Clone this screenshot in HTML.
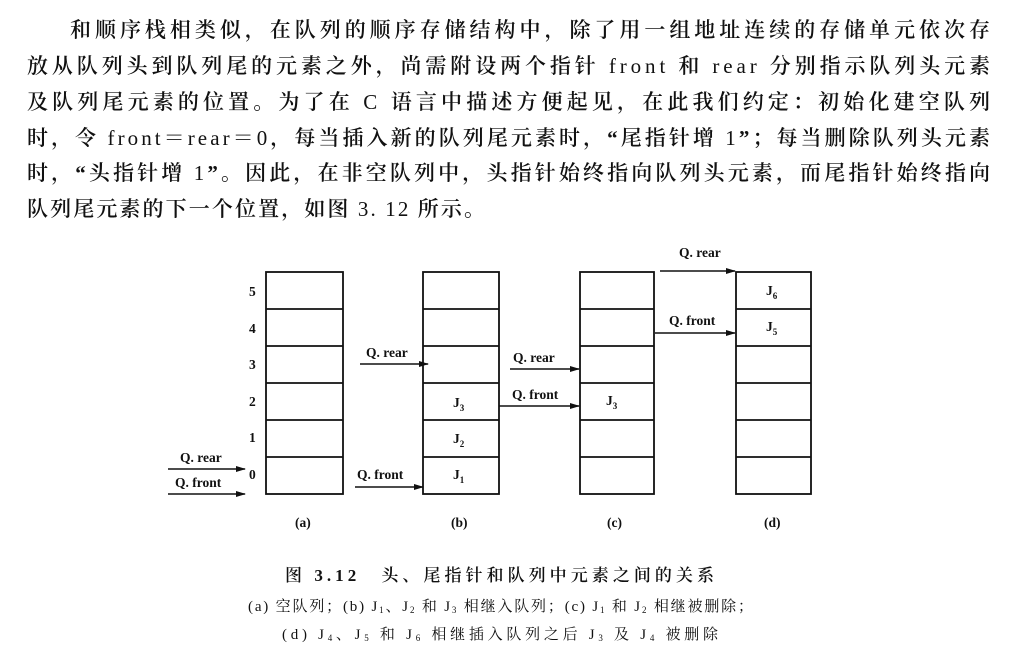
<!DOCTYPE html>
<html><head><meta charset="utf-8"><style>
html,body{margin:0;padding:0;background:#fff;}
svg{display:block;}
.t{font-family:"Liberation Serif","Noto Serif CJK SC",serif;font-size:21px;fill:#111;font-weight:600;}
.n{font-weight:normal;}
.l{font-family:"Liberation Serif",serif;font-size:13.5px;font-weight:bold;fill:#111;}
.c{font-family:"Liberation Serif","Noto Serif CJK SC",serif;fill:#111;}
</style></head><body>
<svg width="1024" height="664" viewBox="0 0 1024 664" xmlns="http://www.w3.org/2000/svg">
<defs><marker id="a" markerWidth="10" markerHeight="8" refX="9" refY="4" orient="auto" markerUnits="userSpaceOnUse"><path d="M0,1 L10,4 L0,7 Z" fill="#111"/></marker></defs>
<text class="t" x="70" y="37" textLength="920" lengthAdjust="spacing">和顺序栈相类似，在队列的顺序存储结构中，除了用一组地址连续的存储单元依次存</text>
<text class="t" x="27" y="73" textLength="963" lengthAdjust="spacing">放从队列头到队列尾的元素之外，尚需附设两个指针<tspan class="n"> front </tspan>和<tspan class="n"> rear </tspan>分别指示队列头元素</text>
<text class="t" x="27" y="109" textLength="963" lengthAdjust="spacing">及队列尾元素的位置。为了在<tspan class="n"> C </tspan>语言中描述方便起见，在此我们约定：初始化建空队列</text>
<text class="t" x="27" y="145" textLength="963" lengthAdjust="spacing">时，令<tspan class="n"> front＝rear＝0</tspan>，每当插入新的队列尾元素时，“尾指针增<tspan class="n"> 1</tspan>”；每当删除队列头元素</text>
<text class="t" x="27" y="180" textLength="963" lengthAdjust="spacing">时，“头指针增<tspan class="n"> 1</tspan>”。因此，在非空队列中，头指针始终指向队列头元素，而尾指针始终指向</text>
<text class="t" x="27" y="216" textLength="458" lengthAdjust="spacing">队列尾元素的下一个位置，如图<tspan class="n"> 3. 12 </tspan>所示。</text>

<g fill="none" stroke="#111" stroke-width="1.8">
<rect x="266" y="272" width="77" height="222"/>
<path d="M266 309H343M266 346H343M266 383H343M266 420H343M266 457H343"/>
<rect x="423" y="272" width="76" height="222"/>
<path d="M423 309H499M423 346H499M423 383H499M423 420H499M423 457H499"/>
<rect x="580" y="272" width="74" height="222"/>
<path d="M580 309H654M580 346H654M580 383H654M580 420H654M580 457H654"/>
<rect x="736" y="272" width="75" height="222"/>
<path d="M736 309H811M736 346H811M736 383H811M736 420H811M736 457H811"/>
</g>
<g stroke="#111" stroke-width="1.5" marker-end="url(#a)">
<line x1="168" y1="469" x2="245" y2="469"/>
<line x1="168" y1="494" x2="245" y2="494"/>
<line x1="360" y1="364" x2="428" y2="364"/>
<line x1="355" y1="487" x2="423" y2="487"/>
<line x1="510" y1="369" x2="579" y2="369"/>
<line x1="499" y1="406" x2="579" y2="406"/>
<line x1="660" y1="271" x2="735" y2="271"/>
<line x1="655" y1="333" x2="735" y2="333"/>
</g>
<g class="l">
<text x="249" y="296">5</text><text x="249" y="333">4</text><text x="249" y="369">3</text>
<text x="249" y="406">2</text><text x="249" y="442">1</text><text x="249" y="479">0</text>
<text x="180" y="462">Q. rear</text><text x="175" y="487">Q. front</text>
<text x="366" y="357">Q. rear</text><text x="357" y="479">Q. front</text>
<text x="513" y="362">Q. rear</text><text x="512" y="399">Q. front</text>
<text x="679" y="257">Q. rear</text><text x="669" y="325">Q. front</text>
<text x="453" y="407">J<tspan font-size="9" dy="4">3</tspan></text>
<text x="453" y="443">J<tspan font-size="9" dy="4">2</tspan></text>
<text x="453" y="479">J<tspan font-size="9" dy="4">1</tspan></text>
<text x="606" y="405">J<tspan font-size="9" dy="4">3</tspan></text>
<text x="766" y="295">J<tspan font-size="9" dy="4">6</tspan></text>
<text x="766" y="331">J<tspan font-size="9" dy="4">5</tspan></text>
<text x="295" y="527">(a)</text><text x="451" y="527">(b)</text><text x="607" y="527">(c)</text><text x="764" y="527">(d)</text>
</g>
<text class="c" x="285" y="581" font-size="17" font-weight="600" textLength="429" lengthAdjust="spacing">图 3.12　头、尾指针和队列中元素之间的关系</text>
<text class="c" x="248" y="611" font-size="15" textLength="505" lengthAdjust="spacing">(a) 空队列；(b) J<tspan font-size="9" dy="2">1</tspan><tspan dy="-2">、J</tspan><tspan font-size="9" dy="2">2</tspan><tspan dy="-2"> 和 J</tspan><tspan font-size="9" dy="2">3</tspan><tspan dy="-2"> 相继入队列；(c) J</tspan><tspan font-size="9" dy="2">1</tspan><tspan dy="-2"> 和 J</tspan><tspan font-size="9" dy="2">2</tspan><tspan dy="-2"> 相继被删除；</tspan></text>
<text class="c" x="282" y="639" font-size="15" textLength="436" lengthAdjust="spacing">(d) J<tspan font-size="9" dy="2">4</tspan><tspan dy="-2">、J</tspan><tspan font-size="9" dy="2">5</tspan><tspan dy="-2"> 和 J</tspan><tspan font-size="9" dy="2">6</tspan><tspan dy="-2"> 相继插入队列之后 J</tspan><tspan font-size="9" dy="2">3</tspan><tspan dy="-2"> 及 J</tspan><tspan font-size="9" dy="2">4</tspan><tspan dy="-2"> 被删除</tspan></text>
</svg>
</body></html>
